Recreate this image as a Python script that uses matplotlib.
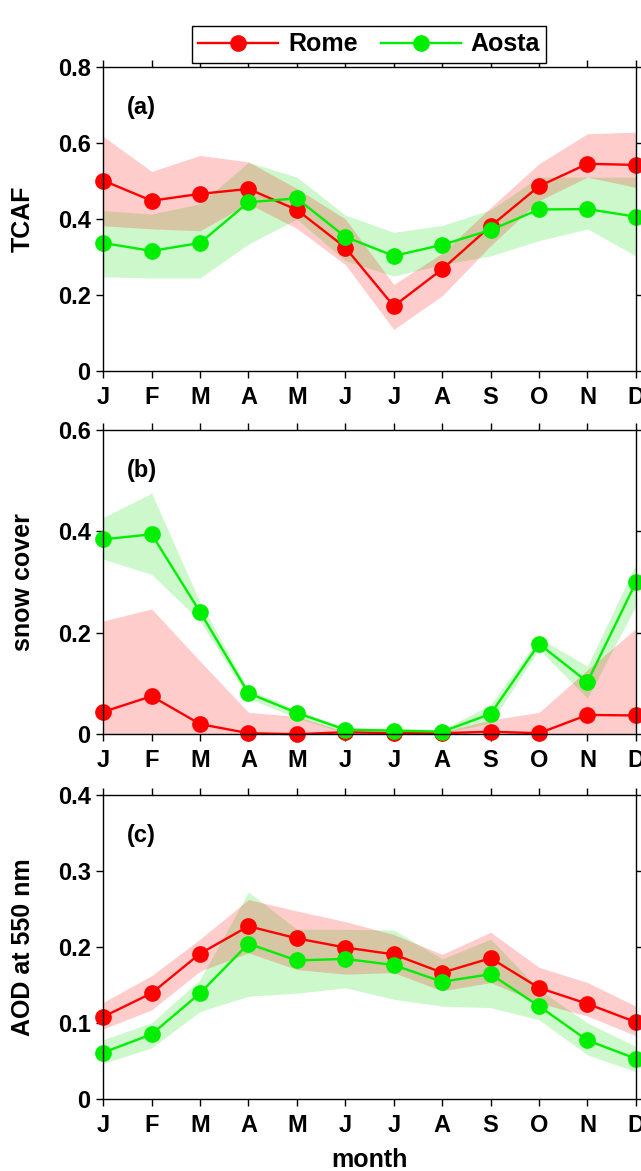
import matplotlib
matplotlib.use("Agg")
import matplotlib.pyplot as plt

plt.rcParams['font.family'] = ['Liberation Sans', 'DejaVu Sans']
plt.rcParams['font.weight'] = 'bold'

months = ['J', 'F', 'M', 'A', 'M', 'J', 'J', 'A', 'S', 'O', 'N', 'D']

# (a) TCAF
tcaf_rome = [0.501, 0.448, 0.466, 0.479, 0.424, 0.325, 0.171, 0.268, 0.381, 0.486, 0.545, 0.542]
tcaf_rome_hi = [0.617, 0.525, 0.567, 0.550, 0.480, 0.400, 0.228, 0.310, 0.430, 0.545, 0.624, 0.628]
tcaf_rome_lo = [0.382, 0.374, 0.369, 0.440, 0.375, 0.280, 0.110, 0.198, 0.330, 0.448, 0.510, 0.483]
tcaf_aosta = [0.337, 0.316, 0.337, 0.444, 0.454, 0.353, 0.303, 0.332, 0.371, 0.425, 0.426, 0.406]
tcaf_aosta_hi = [0.422, 0.413, 0.440, 0.549, 0.510, 0.410, 0.365, 0.383, 0.424, 0.510, 0.510, 0.510]
tcaf_aosta_lo = [0.248, 0.245, 0.245, 0.334, 0.400, 0.290, 0.250, 0.280, 0.303, 0.343, 0.374, 0.303]

# (b) snow cover
snow_rome = [0.044, 0.075, 0.020, 0.002, 0.000, 0.004, 0.002, 0.002, 0.005, 0.002, 0.038, 0.037]
snow_rome_hi = [0.223, 0.247, 0.144, 0.043, 0.035, 0.005, 0.005, 0.005, 0.028, 0.043, 0.127, 0.208]
snow_rome_lo = [0.0, 0.0, 0.0, 0.0, 0.0, 0.0, 0.0, 0.0, 0.0, 0.0, 0.0, 0.0]
snow_aosta = [0.384, 0.394, 0.241, 0.081, 0.042, 0.009, 0.007, 0.005, 0.040, 0.178, 0.103, 0.299]
snow_aosta_hi = [0.427, 0.475, 0.260, 0.088, 0.048, 0.012, 0.012, 0.009, 0.058, 0.190, 0.134, 0.335]
snow_aosta_lo = [0.345, 0.315, 0.223, 0.071, 0.032, 0.002, 0.002, 0.002, 0.022, 0.167, 0.071, 0.253]

# (c) AOD at 550 nm
aod_rome = [0.108, 0.139, 0.191, 0.227, 0.211, 0.199, 0.190, 0.166, 0.185, 0.146, 0.125, 0.101]
aod_rome_hi = [0.127, 0.162, 0.210, 0.262, 0.247, 0.233, 0.216, 0.190, 0.219, 0.173, 0.153, 0.122]
aod_rome_lo = [0.092, 0.117, 0.168, 0.192, 0.170, 0.164, 0.166, 0.142, 0.153, 0.126, 0.109, 0.083]
aod_aosta = [0.061, 0.085, 0.139, 0.204, 0.182, 0.184, 0.176, 0.154, 0.164, 0.122, 0.077, 0.053]
aod_aosta_hi = [0.078, 0.100, 0.157, 0.272, 0.223, 0.223, 0.222, 0.184, 0.210, 0.144, 0.100, 0.069]
aod_aosta_lo = [0.047, 0.067, 0.115, 0.135, 0.139, 0.146, 0.131, 0.122, 0.120, 0.104, 0.058, 0.036]

panels = [
    ('(a)', 'TCAF', 0.8, [0, 0.2, 0.4, 0.6, 0.8],
     tcaf_rome, tcaf_rome_lo, tcaf_rome_hi, tcaf_aosta, tcaf_aosta_lo, tcaf_aosta_hi),
    ('(b)', 'snow cover', 0.6, [0, 0.2, 0.4, 0.6],
     snow_rome, snow_rome_lo, snow_rome_hi, snow_aosta, snow_aosta_lo, snow_aosta_hi),
    ('(c)', 'AOD at 550 nm', 0.4, [0, 0.1, 0.2, 0.3, 0.4],
     aod_rome, aod_rome_lo, aod_rome_hi, aod_aosta, aod_aosta_lo, aod_aosta_hi),
]

red = '#ff0000'
green = '#00ee00'

fig = plt.figure(figsize=(6.41, 11.71), dpi=100)
x = list(range(12))
bottoms = [0.683, 0.373, 0.0615]
for (tag, ylab, ymax, yt, r, rlo, rhi, a, alo, ahi), b in zip(panels, bottoms):
    ax = fig.add_axes([0.161, b, 0.831, 0.26])
    ax.fill_between(x, alo, ahi, color='#00e000', alpha=0.2, lw=0)
    ax.fill_between(x, rlo, rhi, color='#ff0000', alpha=0.2, lw=0)
    l1, = ax.plot(x, r, '-o', color=red, lw=1.7, ms=11, clip_on=False, label='Rome')
    l2, = ax.plot(x, a, '-o', color=green, lw=1.7, ms=11, clip_on=False, label='Aosta')
    ax.set_xlim(0, 11)
    ax.set_ylim(0, ymax)
    ax.set_yticks(yt)
    ax.set_yticklabels(['0' if v == 0 else '%g' % v for v in yt])
    ax.set_xticks(x)
    ax.set_xticklabels(months)
    ax.tick_params(axis='both', direction='out', length=5, width=1, labelsize=17, top=True, right=True)
    ax.tick_params(axis='x', pad=6)
    ax.tick_params(axis='y', pad=4)
    ax.set_ylabel(ylab, fontsize=18, fontweight='bold')
    ax.yaxis.set_label_coords(-0.128, 0.5)
    ax.text(0.045, 0.865, tag, transform=ax.transAxes, fontsize=17, fontweight='bold', va='center')
    for s in ax.spines.values():
        s.set_linewidth(1)

ax.set_xlabel('month', fontsize=18, fontweight='bold', labelpad=8)

fig.legend(handles=[l1, l2], loc='center', bbox_to_anchor=(0.576, 0.962), ncol=2,
           fancybox=False, edgecolor='black', framealpha=1,
           handlelength=3.2, handletextpad=0.4, columnspacing=0.9, borderpad=0.25,
           prop={'weight': 'bold', 'size': 18})

fig.savefig('out.png', dpi=100)
